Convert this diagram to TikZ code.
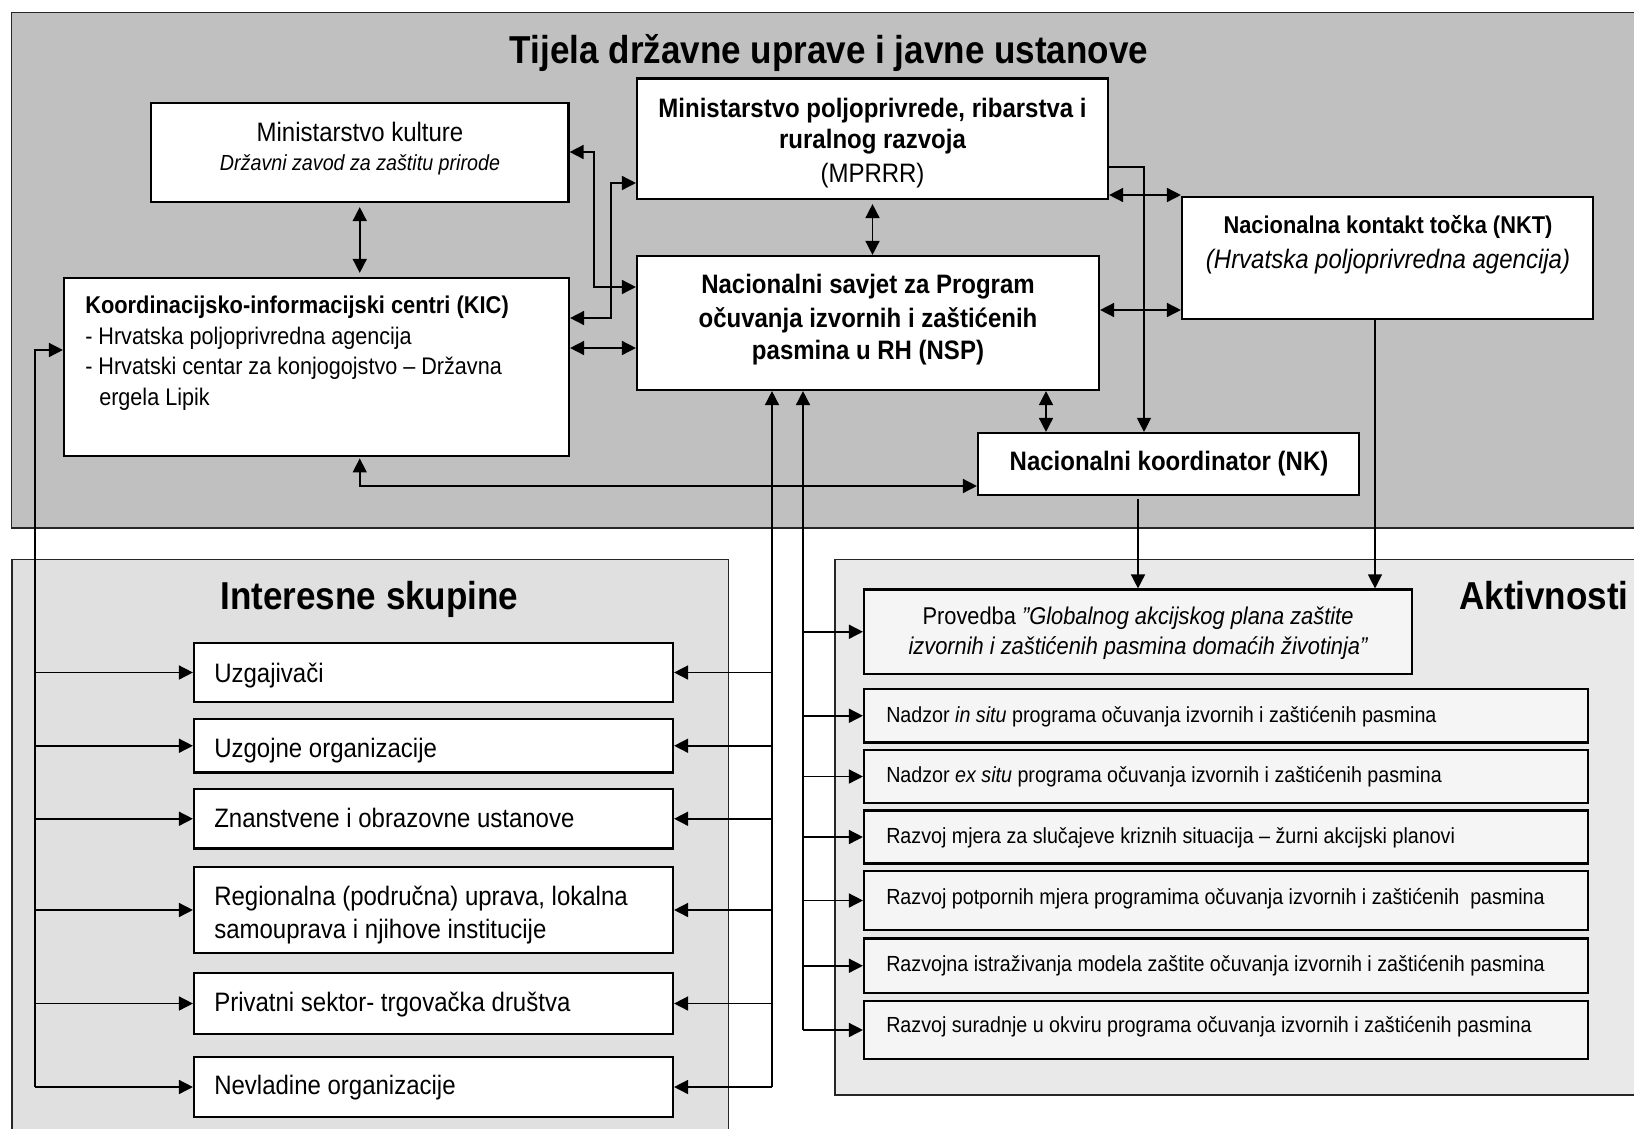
\documentclass[tikz,border=0pt]{standalone}
\usepackage{fontspec}
\setmainfont{Liberation Sans}[FakeStretch=0.9]
\usetikzlibrary{arrows.meta}
\definecolor{graytop}{RGB}{192,192,192}
\definecolor{grayleft}{RGB}{224,224,224}
\definecolor{grayright}{RGB}{233,233,233}
\definecolor{actfill}{RGB}{245,245,245}
\newcommand\bx[6]{%
  \pgfmathsetmacro\bw{(#4-#2)*0.75}%
  \pgfmathsetmacro\bh{(#5-#3)*0.75}%
  \node[#6, minimum width=\bw pt, minimum height=\bh pt] (#1) at ({(#2+#4)/2},{(#3+#5)/2}) {};}
\newcommand\sq{\char34\relax}
\begin{document}
\begin{tikzpicture}[x=0.75pt,y=-0.75pt,
  container/.style={draw=black!85, line width=1.3pt, rectangle, inner sep=0pt},
  box/.style={draw=black, line width=1.6pt, fill=white, rectangle, inner sep=0pt},
  actbox/.style={box, fill=actfill},
  txt/.style={inner sep=0pt},
  ttl/.style={txt, font=\fontsize{29.2}{35}\selectfont\bfseries},
  bt/.style={txt, font=\fontsize{20}{24}\selectfont\bfseries},
  rt/.style={txt, font=\fontsize{20}{24}\selectfont},
  itx/.style={txt, font=\fontsize{20}{24}\selectfont\itshape},
  kt/.style={txt, font=\fontsize{18}{22}\selectfont},
  gt/.style={txt, font=\fontsize{20}{24}\selectfont},
  acttxt/.style={txt, font=\fontsize{16.4}{20}\selectfont},
  mytip/.tip={Triangle[length=10.5pt,width=10.5pt]},
  conn/.style={line width=1.15pt, -mytip},
  dconn/.style={line width=1.15pt, mytip-mytip},
  thinl/.style={line width=0.85pt}]
\useasboundingbox (0,0) rectangle (1634,1128);
% containers
\bx{top}{11.5}{12.5}{1660}{528}{container, fill=graytop}
\bx{grp}{12}{559.5}{728.5}{1160}{container, fill=grayleft}
\bx{akt}{835}{559.5}{1660}{1095}{container, fill=grayright}
\node[ttl, anchor=base] (ttop) at (829,63) {Tijela državne uprave i javne ustanove};
\node[ttl, anchor=base] (tgrp) at (369.5,609) {Interesne skupine};
\node[ttl, anchor=base west] (takt) at (1459,609) {Aktivnosti};
% top boxes
\bx{mk}{151}{103}{568.5}{202}{box}
\node[rt, anchor=base] (mk1) at (360,141) {Ministarstvo kulture};
\node[itx, font=\fontsize{16.4}{20}\selectfont\itshape, anchor=base] (mk2) at (360,170.5) {Državni zavod za zaštitu prirode};
\bx{mprrr}{637}{78.5}{1108}{199}{box}
\node[bt, anchor=base] (mp1) at (872.5,117) {Ministarstvo poljoprivrede, ribarstva i};
\node[bt, anchor=base] (mp2) at (872.5,148) {ruralnog razvoja};
\node[rt, anchor=base] (mp3) at (872.5,182) {(MPRRR)};
\bx{nkt}{1182}{197}{1593}{319}{box}
\node[bt, font=\fontsize{18.2}{22}\selectfont\bfseries, anchor=base] (nkt1) at (1388,233) {Nacionalna kontakt točka (NKT)};
\node[itx, anchor=base] (nkt2) at (1388,268) {(Hrvatska poljoprivredna agencija)};
\bx{nsp}{637}{256}{1099}{390}{box}
\node[bt, anchor=base] (nsp1) at (868,293) {Nacionalni savjet za Program};
\node[bt, anchor=base] (nsp2) at (868,327) {očuvanja izvornih i zaštićenih};
\node[bt, anchor=base] (nsp3) at (868,359) {pasmina u RH (NSP)};
\bx{kic}{64}{278}{569}{456}{box}
\node[bt, font=\fontsize{18.2}{22}\selectfont\bfseries, anchor=base west] (kic1) at (85,313) {Koordinacijsko-informacijski centri (KIC)};
\node[kt, anchor=base west] (kic2) at (85,344) {- Hrvatska poljoprivredna agencija};
\node[kt, anchor=base west] (kic3) at (85,374) {- Hrvatski centar za konjogojstvo – Državna};
\node[kt, anchor=base west] (kic4) at (99,405) {ergela Lipik};
\bx{nk}{978}{433}{1359}{495}{box}
\node[bt, anchor=base] (nk1) at (1169,470) {Nacionalni koordinator (NK)};
% interest groups
\bx{uzg}{194}{643}{673}{702}{box}
\bx{uzo}{194}{719}{673}{772.5}{box}
\bx{zna}{194}{789}{673}{848.5}{box}
\bx{reg}{194}{867}{673}{953}{box}
\bx{pri}{194}{973}{673}{1034}{box}
\bx{nev}{194}{1057}{673}{1117}{box}
\node[gt, anchor=base west] (tuzg) at (214,682) {Uzgajivači};
\node[gt, anchor=base west] (tuzo) at (214,757) {Uzgojne organizacije};
\node[gt, anchor=base west] (tzna) at (214,827) {Znanstvene i obrazovne ustanove};
\node[gt, anchor=base west] (treg1) at (214,905.5) {Regionalna (područna) uprava, lokalna};
\node[gt, anchor=base west] (treg2) at (214,938) {samouprava i njihove institucije};
\node[gt, anchor=base west] (tpri) at (214,1011.5) {Privatni sektor- trgovačka društva};
\node[gt, anchor=base west] (tnev) at (214,1094.5) {Nevladine organizacije};
% activities
\bx{prov}{864}{589.5}{1412}{674}{actbox}
\node[acttxt, font=\fontsize{18.2}{22}\selectfont, anchor=base] (tprov1) at (1138,624) {Provedba \textit{\sq Globalnog akcijskog plana zaštite}};
\node[acttxt, font=\fontsize{18.2}{22}\selectfont\itshape, anchor=base] (tprov2) at (1138,654) {izvornih i zaštićenih pasmina domaćih životinja\sq};
\bx{a1}{864}{689}{1588}{742.5}{actbox}
\bx{a2}{864}{750}{1588}{803}{actbox}
\bx{a3}{864}{810.5}{1588}{863.5}{actbox}
\bx{a4}{864}{871}{1588}{930}{actbox}
\bx{a5}{864}{938.5}{1588}{993}{actbox}
\bx{a6}{864}{1001}{1588}{1059}{actbox}
\node[acttxt, anchor=base west] (ta1) at (886,722.5) {Nadzor \textit{in situ} programa očuvanja izvornih i zaštićenih pasmina};
\node[acttxt, anchor=base west] (ta2) at (886,782) {Nadzor \textit{ex situ} programa očuvanja izvornih i zaštićenih pasmina};
\node[acttxt, anchor=base west] (ta3) at (886,843) {Razvoj mjera za slučajeve kriznih situacija – žurni akcijski planovi};
\node[acttxt, anchor=base west] (ta4) at (886,904) {Razvoj potpornih mjera programima očuvanja izvornih i zaštićenih\ \ pasmina};
\node[acttxt, anchor=base west] (ta5) at (886,971) {Razvojna istraživanja modela zaštite očuvanja izvornih i zaštićenih pasmina};
\node[acttxt, anchor=base west] (ta6) at (886,1032) {Razvoj suradnje u okviru programa očuvanja izvornih i zaštićenih pasmina};
% connectors top
\draw[dconn, shorten <=3pt, shorten >=3pt] (mk.south) -- (mk.south |- kic.north);
\draw[dconn] (mk.east |- 0,152) -| (594,287) -- (nsp.west |- 0,287);
\draw[dconn] (kic.east |- 0,318) -| (611,183) -- (mprrr.west |- 0,183);
\draw[dconn] (kic.east |- 0,348) -- (nsp.west |- 0,348);
\draw[dconn, shorten <=3pt] (mprrr.south) -- (mprrr.south |- nsp.north);
\draw[conn, thinl] (mprrr.east |- 0,167) -| (nk.north -| 1144,0);
\draw[dconn] (mprrr.east |- 0,195) -- (nkt.west |- 0,195);
\draw[dconn] (nsp.east |- 0,310) -- (nkt.west |- 0,310);
\draw[dconn] (nsp.south -| 1046,0) -- (nk.north -| 1046,0);
\draw[dconn, shorten <=1pt] (kic.south -| mk.south) |- (nk.west |- 0,486);
\draw[conn, shorten <=2pt] (prov.north |- nk.south) -- (prov.north);
\draw[conn, thinl] (nkt.south -| 1375,0) -- (prov.north -| 1375,0);
% left bus
\coordinate (lb) at (35,1087);
\draw[conn] (lb) |- (kic.west |- 0,350);
\foreach \b in {uzg,uzo,zna,reg,pri,nev} \draw[conn] (lb |- \b.west) -- (\b.west);
% right bus
\coordinate (rb) at (772,1087);
\draw[conn] (rb) -- (rb |- nsp.south);
\foreach \b in {uzg,uzo,zna,reg,pri,nev} \draw[conn] (rb |- \b.east) -- (\b.east);
% activity bus
\coordinate (ab) at (803,1030);
\draw[conn] (ab) -- (ab |- nsp.south);
\foreach \b in {prov,a1,a2,a3,a4,a5,a6} \draw[conn] (ab |- \b.west) -- (\b.west);
\end{tikzpicture}
\end{document}
